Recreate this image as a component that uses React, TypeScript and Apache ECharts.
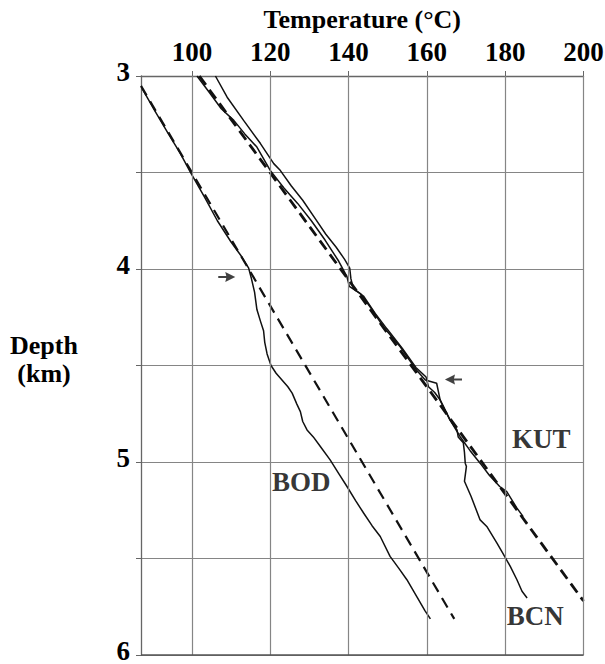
import React, { useEffect, useRef } from "react";
import * as echarts from "echarts";

const xTicks = [100, 120, 140, 160, 180, 200];
const yMin = 3;
const yMax = 6;
const yStep = 0.5;

// [temperature °C, depth km]
const bodMeasured = [
  [87.3, 3.066], [90.5, 3.18], [94.0, 3.3], [97.0, 3.4], [99.6, 3.498], [103.3, 3.63],
  [106.5, 3.75], [110.0, 3.86], [112.5, 3.93], [114.5, 3.996], [115.2, 4.05], [116.0, 4.12],
  [116.6, 4.21], [117.5, 4.27], [118.3, 4.32], [118.6, 4.38], [119.2, 4.44], [120.2, 4.5],
  [121.5, 4.54], [123.0, 4.575], [124.5, 4.61], [125.6, 4.643], [126.8, 4.7], [127.7, 4.739],
  [128.3, 4.79], [129.4, 4.834], [131.0, 4.87], [132.8, 4.92], [135.3, 4.989], [137.5, 5.06],
  [139.6, 5.127], [141.8, 5.2], [143.8, 5.263], [146.0, 5.33], [148.1, 5.386], [150.6, 5.489],
  [152.8, 5.55], [154.9, 5.61], [157.5, 5.7], [159.5, 5.77], [160.9, 5.813],
];
const bodTrend = [[87.0, 3.051], [167.0, 5.813]];

const kutMeasured = [
  [101.3, 3.0], [104.7, 3.092], [107.5, 3.17], [110.7, 3.23], [113.5, 3.3], [116.6, 3.368],
  [120.0, 3.489], [123.5, 3.58], [127.0, 3.66], [130.5, 3.75], [134.0, 3.85], [137.5, 3.96],
  [139.6, 4.04], [140.2, 4.09], [143.0, 4.127], [146.0, 4.21], [148.9, 4.3], [151.0, 4.35],
  [153.2, 4.403], [155.5, 4.47], [157.4, 4.524], [159.6, 4.575], [162.5, 4.592], [163.4, 4.679],
  [165.9, 4.782], [168.5, 4.869], [171.0, 4.94], [173.6, 5.006], [176.0, 5.07], [178.6, 5.127],
  [180.4, 5.153], [183.0, 5.239], [184.6, 5.283],
];
const kutTrend = [[101.9, 3.0], [200.0, 5.72]];

const bcnMeasured = [
  [106.0, 3.0], [109.0, 3.11], [113.2, 3.23], [117.5, 3.35], [120.9, 3.454], [122.6, 3.49],
  [125.4, 3.57], [128.3, 3.644], [131.8, 3.748], [134.2, 3.82], [136.8, 3.886], [139.0, 3.95],
  [140.3, 3.995], [140.6, 4.05], [141.2, 4.1], [143.8, 4.14], [146.8, 4.23], [149.8, 4.31],
  [153.7, 4.41], [157.2, 4.51], [159.8, 4.56], [160.4, 4.61], [162.0, 4.64], [163.4, 4.679],
  [165.9, 4.782], [167.7, 4.834], [168.0, 4.87], [169.3, 4.9], [169.6, 4.95], [169.8, 5.006],
  [170.1, 5.023], [169.6, 5.1], [171.3, 5.179], [173.6, 5.3], [175.3, 5.334], [177.9, 5.42],
  [179.6, 5.48], [181.3, 5.541], [183.0, 5.61], [184.3, 5.67], [185.6, 5.705],
];

const wellLabels = [
  [189.2, 4.88, "KUT"],
  [127.9, 5.103, "BOD"],
  [187.7, 5.796, "BCN"],
];
// [temperature, depth, rotation]
const arrowMarks = [
  [108.9, 4.041, 0],
  [166.8, 4.573, 180],
];

const FONT = "'Liberation Serif', 'Times New Roman', serif";
const INK = "#000000";
const GRID = "#858585";

export default function App() {
  const ref = useRef<HTMLDivElement>(null);
  useEffect(() => {
    document.body.style.margin = "0";
    if (!ref.current) return;
    const chart = echarts.init(ref.current, null, { renderer: "svg" });
    const solid = (name: string, data: number[][]) => ({
      name,
      type: "line",
      data,
      showSymbol: false,
      symbol: "none",
      lineStyle: { color: "#111", width: 1.5 },
      z: 3,
    });
    const dashed = (name: string, data: number[][], w: number, dash: number[]) => ({
      name,
      type: "line",
      data,
      showSymbol: false,
      symbol: "none",
      lineStyle: { color: "#111", width: w, type: dash },
      z: 4,
    });
    chart.setOption({
      animation: false,
      backgroundColor: "#ffffff",
      grid: {
        left: 141,
        right: 21.5,
        top: 76,
        bottom: 9,
        containLabel: false,
        outerBoundsMode: "none",
      },
      graphic: [
        {
          type: "text",
          x: 44,
          y: 331,
          style: {
            text: "Depth\n(km)",
            fontFamily: FONT,
            fontWeight: "bold",
            fontSize: 26,
            lineHeight: 28,
            fill: INK,
            align: "center",
            verticalAlign: "top",
          },
        },
      ],
      xAxis: {
        type: "value",
        position: "top",
        min: 87,
        max: 200,
        name: "Temperature (°C)",
        nameLocation: "middle",
        nameGap: 44,
        nameTextStyle: { fontFamily: FONT, fontWeight: "bold", fontSize: 26, color: INK },
        axisLine: { show: true, lineStyle: { color: "#666", width: 1.3 } },
        axisTick: { show: true, inside: false, length: 5, customValues: xTicks, lineStyle: { color: "#666" } },
        axisLabel: {
          customValues: xTicks,
          margin: 11,
          fontFamily: FONT,
          fontWeight: "bold",
          fontSize: 27,
          color: INK,
        },
        splitLine: { show: false },
      },
      yAxis: {
        type: "value",
        inverse: true,
        min: yMin,
        max: yMax,
        interval: yStep,
        axisLine: { show: true, lineStyle: { color: "#666", width: 1.3 } },
        axisTick: { show: true, inside: false, length: 5, lineStyle: { color: "#666" } },
        axisLabel: {
          margin: 11,
          color: INK,
          formatter: (v: number) =>
            Math.abs(v - Math.round(v)) < 1e-9 ? `{n|${Math.round(v)}}` : "",
          rich: {
            n: {
              fontFamily: FONT,
              fontWeight: "bold",
              fontSize: 27,
              color: INK,
              lineHeight: 14,
              padding: [0, 0, 9, 0],
            },
          },
        },
        splitLine: { show: true, lineStyle: { color: GRID, width: 1.2 } },
      },
      series: [
        {
          name: "grid",
          type: "line",
          data: [],
          markLine: {
            silent: true,
            symbol: "none",
            label: { show: false },
            lineStyle: { color: GRID, type: "solid", width: 1.2 },
            data: [
              ...xTicks.map((v) => ({ xAxis: v })),
              { yAxis: yMax, lineStyle: { color: "#555", width: 1.6 } },
            ],
          },
          z: 1,
        },
        solid("BOD measured", bodMeasured),
        solid("KUT measured", kutMeasured),
        solid("BCN measured", bcnMeasured),
        dashed("BOD trend", bodTrend, 2.2, [11, 7]),
        dashed("KUT trend", kutTrend, 2.8, [11, 6]),
        {
          name: "labels",
          type: "scatter",
          data: wellLabels,
          symbolSize: 0,
          label: {
            show: true,
            position: "inside",
            formatter: (p: any) => p.data[2],
            fontFamily: FONT,
            fontWeight: "bold",
            fontSize: 27,
            color: INK,
          },
          z: 5,
        },
        {
          name: "arrows",
          type: "scatter",
          data: arrowMarks.map((a) => ({ value: [a[0], a[1]], symbolRotate: a[2] })),
          symbol: "path://M0,4 L8,4 L7,0 L17,5 L7,10 L8,6 L0,6 Z",
          symbolSize: [17, 10],
          itemStyle: { color: "#111" },
          z: 5,
        },
      ],
    });
    return () => chart.dispose();
  }, []);
  return <div ref={ref} style={{ width: 605, height: 664 }} />;
}
